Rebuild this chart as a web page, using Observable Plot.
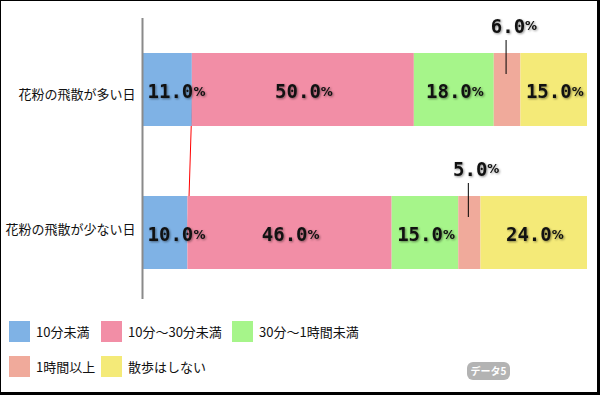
<!DOCTYPE html>
<html><head><meta charset="utf-8">
<script src="https://cdn.jsdelivr.net/npm/d3@7"></script>
<script src="https://cdn.jsdelivr.net/npm/@observablehq/plot@0.6"></script>
<style>
body{margin:0;background:#fff;}
#wrap{position:relative;width:600px;height:395px;overflow:hidden;background:#fff;font-family:"Noto Sans CJK JP",sans-serif;}
#chart svg{display:block;}
#frame{position:absolute;left:0;top:0;width:600px;height:395px;box-sizing:border-box;border:1px solid #000;border-right-width:3px;border-bottom-width:3px;pointer-events:none;}
#legend{position:absolute;left:9px;top:321px;display:grid;grid-template-columns:92px 131px auto;row-gap:14px;}
.item{display:flex;align-items:center;height:21px;font-size:13px;color:#111;white-space:nowrap;}
.sw{width:21px;height:21px;margin-right:6px;flex:none;}
#badge{position:absolute;left:467px;top:362px;width:43px;height:18px;border-radius:6px;background:#b3b3b3;color:#fff;font-size:10px;font-weight:bold;line-height:18px;text-align:center;}
</style></head>
<body><div id="wrap"><div id="chart"></div><div id="legend"></div><div id="badge">データ5</div><div id="frame"></div></div>
<script>
const categories = ["花粉の飛散が多い日", "花粉の飛散が少ない日"];
const responses = ["10分未満", "10分～30分未満", "30分～1時間未満", "1時間以上", "散歩はしない"];
const valuesMany = [11.0, 50.0, 18.0, 6.0, 15.0];
const valuesFew = [10.0, 46.0, 15.0, 5.0, 24.0];
const colors = ["#7fb2e5", "#f28ea6", "#a6f58a", "#f0aa9b", "#f4ea78"];
const outsideLabelResponse = "1時間以上";

const series = [valuesMany, valuesFew];
const rows = [];
categories.forEach((cat, ci) => {
  let acc = 0;
  responses.forEach((resp, ri) => {
    const v = series[ci][ri];
    rows.push({cat, resp, value: v, x1: acc, x2: acc + v, mid: acc + v / 2, first: ri === 0});
    acc += v;
  });
});
const inside = rows.filter(d => d.resp !== outsideLabelResponse && !d.first);
const firsts = rows.filter(d => d.first);
const outside = rows.filter(d => d.resp === outsideLabelResponse);
const fmt = d => d.value.toFixed(1);
const catOffsets = [5, -3];

const numFont = {fontFamily: "DejaVu Sans Mono", fontWeight: "bold", fontSize: 19, fill: "#111"};
const pctFont = {fontFamily: "DejaVu Sans", fontWeight: "bold", fontSize: 12, fill: "#111"};

const chart = Plot.plot({
  width: 600,
  height: 310,
  marginLeft: 143,
  marginRight: 13,
  marginTop: 18,
  marginBottom: 11,
  style: {background: "white", overflow: "visible"},
  x: {domain: [0, 100], axis: null},
  y: {domain: categories, range: [53, 269], paddingInner: 70 / 143, paddingOuter: 0, axis: null},
  color: {domain: responses, range: colors},
  marks: [
    ...categories.map((c, i) => Plot.text([c], {y: d => d, text: d => d, frameAnchor: "left", textAnchor: "end", dx: -8, dy: catOffsets[i], fontSize: 13, fontFamily: "Noto Sans CJK JP", fill: "#111"})),
    Plot.link([{a: rows[0], b: rows[responses.length]}], {x1: d => d.a.x2, x2: d => d.b.x2, y1: d => d.a.cat, y2: d => d.b.cat, stroke: "#ff0000", strokeWidth: 1}),
    Plot.barX(rows, {x1: "x1", x2: "x2", y: "cat", fill: "resp"}),
    Plot.tickX(outside, {x: "mid", y: "cat", stroke: "#000", strokeWidth: 1, insetTop: -13, insetBottom: 52, dx: -1.5}),
    Plot.ruleX([0], {stroke: "#8a8a8a", strokeWidth: 2, dx: -1}),
    Plot.text(inside, {x: "mid", y: "cat", text: fmt, textAnchor: "end", dx: 17.5, dy: 2, ...numFont}),
    Plot.text(inside, {x: "mid", y: "cat", text: () => "%", textAnchor: "start", dx: 17.5, dy: 2, ...pctFont}),
    Plot.text(firsts, {x: "x1", y: "cat", text: fmt, textAnchor: "start", dx: 4, dy: 2, ...numFont}),
    Plot.text(firsts, {x: "x1", y: "cat", text: () => "%", textAnchor: "start", dx: 50, dy: 2, ...pctFont}),
    Plot.text(outside, {x: "mid", y: "cat", text: fmt, textAnchor: "end", dx: 17.5, dy: -63.5, ...numFont}),
    Plot.text(outside, {x: "mid", y: "cat", text: () => "%", textAnchor: "start", dx: 17.5, dy: -63.5, ...pctFont})
  ]
});
d3.select(chart).selectAll('g[aria-label="text"]').filter((d, i) => i >= categories.length)
  .style("filter", "drop-shadow(1px 1px 1px rgba(0,0,0,0.45))");
document.getElementById("chart").appendChild(chart);

const legend = d3.select("#legend");
responses.forEach((r, i) => {
  const it = legend.append("div").attr("class", "item");
  if (i === 3) it.style("grid-column", "1");
  it.append("div").attr("class", "sw").style("background", colors[i]);
  it.append("span").text(r);
});
</script>
</body></html>
